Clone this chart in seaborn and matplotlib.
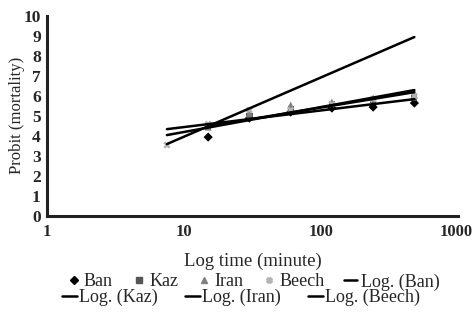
import numpy as np
import pandas as pd
import matplotlib
matplotlib.use("Agg")
import matplotlib.pyplot as plt
from matplotlib.lines import Line2D
from matplotlib.transforms import ScaledTranslation
import seaborn as sns

# ---- data ----
times = [7.5, 15, 30, 60, 120, 240, 480]
ban = [None, 3.95, 4.9, 5.2, 5.4, 5.45, 5.65]
kaz = [None, 4.5, 5.0, 5.35, 5.6, 5.8, 5.9]
iran = [None, 4.45, 5.15, 5.55, 5.7, 5.9, 6.05]
beech = [3.55, 4.6, 5.3, 5.3, 5.6, 5.85, 6.0]
series_names = ["Ban", "Kaz", "Iran", "Beech"]
series_colors = ["#000000", "#555555", "#808080", "#b4b4b4"]
series_markers = ["D", "s", "^", "X"]
marker_sizes = [22, 20, 26, 26]

# logarithmic trendlines: y = a + b*ln(x) over [x0, x1]
trend_a = [3.62, 3.17, 2.96, 1.01]
trend_b = [0.361, 0.49, 0.541, 1.286]
trend_x0 = [7.5, 15, 7.5, 7.5]
trend_x1 = [480, 480, 480, 480]

xticks = [1, 10, 100, 1000]
yticks = list(range(0, 11))

sns.set_style("white")
plt.rcParams["font.family"] = ["Liberation Serif", "DejaVu Serif"]

fig = plt.figure(figsize=(4.73, 3.27), dpi=100)
ax = fig.add_axes([0.0994, 0.339, 0.869, 0.612])

values = [ban, kaz, iran, beech]
rows = []
for name, vals in zip(series_names, values):
    for t, v in zip(times, vals):
        if v is not None:
            rows.append({"time": t, "probit": v, "series": name})
df = pd.DataFrame(rows)

# trendlines
trows = []
for name, a, b, x0, x1 in zip(series_names, trend_a, trend_b, trend_x0, trend_x1):
    xs = np.geomspace(x0, x1, 50)
    for x in xs:
        trows.append({"time": x, "probit": a + b * np.log(x), "series": "Log. (" + name + ")"})
tdf = pd.DataFrame(trows)

for name, col, mk, ms in zip(series_names, series_colors, series_markers, marker_sizes):
    sns.scatterplot(data=df[df.series == name], x="time", y="probit", color=col,
                    marker=mk, s=ms, edgecolor="none", ax=ax, legend=False, zorder=3)

sns.lineplot(data=tdf, x="time", y="probit", units="series", estimator=None,
             color="black", linewidth=1.8, ax=ax, legend=False, zorder=4)

ax.set_xscale("log")
ax.set_xlim(1, 1000)
ax.set_ylim(0, 10)
ax.set_xticks(xticks)
ax.set_xticklabels([str(t) for t in xticks])
ax.set_yticks(yticks)
ax.minorticks_off()
for s in ["top", "right"]:
    ax.spines[s].set_visible(False)
for s in ["left", "bottom"]:
    ax.spines[s].set_linewidth(2.2)
    ax.spines[s].set_color("#222222")
ax.tick_params(axis="both", direction="inout", length=5, width=1.5, pad=2, color="#222222")
ax.tick_params(axis="y", labelsize=12.5)
ax.tick_params(axis="x", labelsize=12, pad=3)
for lab in ax.get_xticklabels() + ax.get_yticklabels():
    lab.set_fontweight("bold")
last = ax.get_xticklabels()[-1]
last.set_horizontalalignment("right")
last.set_transform(last.get_transform() + ScaledTranslation(0.15, 0, fig.dpi_scale_trans))
ax.set_xlabel("Log time (minute)", fontsize=13.5, labelpad=9)
ax.set_ylabel("Probit (mortality)", fontsize=12)
ax.yaxis.set_label_coords(-0.054, 0.505)

# legends
h1 = [Line2D([], [], linestyle="none", marker=m, color=c, markersize=4)
      for m, c in zip(series_markers, series_colors)]
h1.append(Line2D([], [], color="black", linewidth=1.8))
labels1 = series_names + ["Log. (Ban)"]
leg1 = fig.legend(h1, labels1, loc="center", bbox_to_anchor=(0.536, 0.138), ncol=5, frameon=False,
                  fontsize=13, handlelength=0.7, handletextpad=0.2, columnspacing=1.1, borderpad=0)
h2 = [Line2D([], [], color="black", linewidth=1.8) for _ in range(3)]
labels2 = ["Log. (" + n + ")" for n in series_names[1:]]
leg2 = fig.legend(h2, labels2, loc="center", bbox_to_anchor=(0.51, 0.09), ncol=3, frameon=False,
                  fontsize=13, handlelength=0.8, handletextpad=0.15, columnspacing=1.5, borderpad=0)

fig.savefig("out.png", dpi=100)
